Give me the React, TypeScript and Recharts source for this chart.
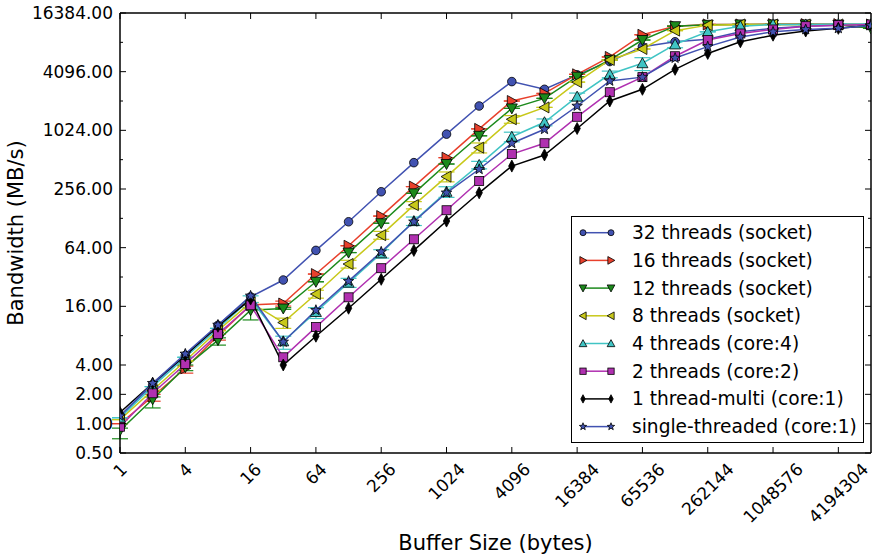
import React from "react";
import { LineChart, Line, XAxis, YAxis, Legend, ErrorBar } from "recharts";

const FONT = "DejaVu Sans, sans-serif";

// buffer sizes (bytes), one point per power of two
const sizes = [
  1, 2, 4, 8, 16, 32, 64, 128, 256, 512, 1024, 2048, 4096, 8192, 16384, 32768,
  65536, 131072, 262144, 524288, 1048576, 2097152, 4194304, 8388608,
];

// bandwidth in MB/s
const threads32 = [1.2, 2.5, 5.0, 10.2, 20, 29.8, 60, 118, 240, 477, 936, 1820, 3240, 2700, 3800, 5200, 7400, 8300, 8800, 10500, 11400, 12000, 12300, 12400];
const threads16 = [1.0, 1.9, 3.7, 8.0, 16.5, 17.1, 34.3, 67, 135, 271, 537, 1060, 2048, 2450, 3850, 5800, 9800, 12000, 12500, 12500, 12600, 12600, 12600, 12500];
const threads12 = [0.85, 1.78, 3.8, 7.2, 14.6, 15.2, 28.6, 57, 114, 231, 462, 900, 1720, 2180, 3640, 5400, 8650, 12000, 12400, 12500, 12500, 12500, 12400, 11400];
const threads8 = [1.1, 2.2, 4.4, 9.0, 17.5, 10.9, 21.4, 43.5, 86, 175, 343, 680, 1330, 1760, 3200, 5400, 7000, 10800, 12300, 12500, 12500, 12500, 12500, 12500];
const threads4 = [1.15, 2.4, 4.8, 9.5, 19, 7.0, 14, 28, 56, 120, 240, 452, 880, 1240, 2270, 3850, 5000, 7800, 10500, 12000, 12500, 12500, 12600, 12600];
const threads2 = [0.93, 2.05, 4.1, 8.3, 16.4, 4.8, 9.8, 19.8, 39.4, 78, 155, 309, 584, 755, 1410, 2520, 3600, 5900, 8650, 10100, 11100, 12000, 12300, 12500];
const thread1multi = [1.3, 2.6, 5.0, 10.0, 19, 4.0, 7.9, 15.3, 30.3, 60, 120, 234, 440, 572, 1070, 2048, 2700, 4330, 6300, 8300, 9700, 10700, 11400, 12200];
const singleThreaded = [1.2, 2.6, 5.2, 10.3, 20.5, 6.9, 14.6, 29, 58, 118, 234, 408, 755, 1050, 1820, 3290, 3600, 5650, 7400, 9300, 10500, 11100, 11400, 12200];

// error bars [below, above] in MB/s
const err16 = [[0, 0], [0.2, 0.1], [0.4, 0.2], [0.8, 0.3], [0, 0], [1, 1], [0, 0], [0, 0], [0, 0], [0, 0], [0, 0], [0, 0], [0, 0], [0, 0], [0, 0], [0, 0], [0, 0], [0, 0], [0, 0], [0, 0], [0, 0], [0, 0], [0, 0], [0, 0]];
const err12 = [[0.15, 0.05], [0.33, 0.1], [0.3, 0.2], [0.8, 0.4], [3.0, 0.8], [0.3, 0.3], [0, 0], [0, 0], [0, 0], [0, 0], [0, 0], [0, 0], [0, 0], [0, 0], [0, 0], [0, 0], [0, 0], [0, 0], [0, 0], [0, 0], [0, 0], [0, 0], [0, 0], [0, 0]];
const err8 = [[0, 0], [0, 0], [0, 0], [0, 0], [0, 0], [1.4, 1.2], [2, 2], [4, 4], [8, 8], [15, 15], [40, 40], [80, 80], [120, 120], [0, 0], [0, 0], [0, 0], [0, 0], [0, 0], [0, 0], [0, 0], [0, 0], [0, 0], [0, 0], [0, 0]];
const err4 = [[0, 0], [0, 0], [0, 0], [0, 0], [1.5, 1.5], [1.2, 0.9], [2, 1.5], [3, 3], [6, 5], [12, 12], [30, 30], [40, 40], [100, 100], [100, 100], [200, 200], [300, 300], [800, 700], [600, 600], [0, 0], [0, 0], [0, 0], [0, 0], [0, 0], [0, 0]];

const xTicks = [1, 4, 16, 64, 256, 1024, 4096, 16384, 65536, 262144, 1048576, 4194304];
const yTicks = [0.5, 1, 2, 4, 8, 16, 32, 64, 128, 256, 512, 1024, 2048, 4096, 8192, 16384];
const yLabeled = [0.5, 1, 2, 4, 16, 64, 256, 1024, 4096, 16384];

const series = [
  { key: "t32", name: "32 threads (socket)", color: "#4152b1", shape: "circle", values: threads32 },
  { key: "t16", name: "16 threads (socket)", color: "#e8402c", shape: "right", values: threads16, err: err16 },
  { key: "t12", name: "12 threads (socket)", color: "#1c8a1c", shape: "down", values: threads12, err: err12 },
  { key: "t8", name: "8 threads (socket)", color: "#c8c81a", shape: "left", values: threads8, err: err8 },
  { key: "t4", name: "4 threads (core:4)", color: "#40c4c4", shape: "up", values: threads4, err: err4 },
  { key: "t2", name: "2 threads (core:2)", color: "#b030b0", shape: "square", values: threads2 },
  { key: "t1", name: "1 thread-multi (core:1)", color: "#000000", shape: "thin", values: thread1multi },
  { key: "st", name: "single-threaded (core:1)", color: "#4152b1", shape: "star", values: singleThreaded },
];

const data = sizes.map((size, i) => {
  const row: Record<string, any> = { size };
  series.forEach((s) => {
    row[s.key] = s.values[i];
    if (s.err) row[s.key + "_err"] = s.err[i];
  });
  return row;
});

function Marker({ shape, x, y, color, k = 1 }: { shape: string; x: number; y: number; color: string; k?: number }) {
  const p = { fill: color, stroke: "#000", strokeWidth: 0.8 };
  const a = 5.5 * k;
  const b = 4.5 * k;
  switch (shape) {
    case "circle":
      return <circle cx={x} cy={y} r={4.3 * k} {...p} />;
    case "right":
      return <polygon points={`${x + a},${y} ${x - b},${y - a} ${x - b},${y + a}`} {...p} />;
    case "down":
      return <polygon points={`${x},${y + a} ${x - a},${y - b} ${x + a},${y - b}`} {...p} />;
    case "left":
      return <polygon points={`${x - a},${y} ${x + b},${y - a} ${x + b},${y + a}`} {...p} />;
    case "up":
      return <polygon points={`${x},${y - a} ${x - a},${y + b} ${x + a},${y + b}`} {...p} />;
    case "square":
      return <rect x={x - b} y={y - b} width={2 * b} height={2 * b} {...p} />;
    case "thin":
      return <polygon points={`${x},${y - 6 * k} ${x + 3.2 * k},${y} ${x},${y + 6 * k} ${x - 3.2 * k},${y}`} {...p} />;
    case "star": {
      const pts: string[] = [];
      for (let i = 0; i < 10; i++) {
        const r = (i % 2 === 0 ? 5.5 : 2.3) * k;
        const ang = -Math.PI / 2 + (i * Math.PI) / 5;
        pts.push(`${x + r * Math.cos(ang)},${y + r * Math.sin(ang)}`);
      }
      return <polygon points={pts.join(" ")} {...p} />;
    }
    default:
      return null;
  }
}

const dotRenderer = (shape: string, color: string) => (props: any) => {
  const { cx, cy, index } = props;
  if (cx == null || cy == null) return <g key={`${shape}-${index}`} />;
  return (
    <g key={`${shape}-${index}`}>
      <Marker shape={shape} x={cx} y={cy} color={color} />
    </g>
  );
};

const BottomTick = (props: any) => {
  const { x, y, payload } = props;
  const label = String(payload.value);
  const w = label.length * 0.636 * 17;
  const cy = y + 9 + ((w + 12) * 0.707) / 2;
  return (
    <g>
      <line x1={x} x2={x} y1={y} y2={y - 6} stroke="#000" strokeWidth={1} />
      <text
        x={0}
        y={0}
        transform={`translate(${x},${cy}) rotate(-45)`}
        textAnchor="middle"
        dominantBaseline="central"
        fontSize={17}
        fontFamily={FONT}
        fill="#000"
      >
        {label}
      </text>
    </g>
  );
};

const TopTick = (props: any) => {
  const { x, y } = props;
  return <line x1={x} x2={x} y1={y} y2={y + 6} stroke="#000" strokeWidth={1} />;
};

const LeftTick = (props: any) => {
  const { x, y, payload } = props;
  const major = yLabeled.includes(payload.value);
  return (
    <g>
      <line x1={x} x2={x + (major ? 6 : 3)} y1={y} y2={y} stroke="#000" strokeWidth={1} />
      {major && (
        <text x={x - 7} y={y} textAnchor="end" dominantBaseline="central" fontSize={17} fontFamily={FONT} fill="#000">
          {payload.value.toFixed(2)}
        </text>
      )}
    </g>
  );
};

const RightTick = (props: any) => {
  const { x, y, payload } = props;
  const major = yLabeled.includes(payload.value);
  return <line x1={x} x2={x - (major ? 6 : 3)} y1={y} y2={y} stroke="#000" strokeWidth={1} />;
};

const LegendBox = () => (
  <svg width={294} height={228} style={{ display: "block" }}>
    <rect x={0.5} y={0.5} width={292} height={226} fill="#fff" stroke="#000" strokeWidth={1} />
    {series.map((s, i) => {
      const y = 16.7 + i * 27.7;
      return (
        <g key={s.key}>
          <line x1={12} x2={40} y1={y} y2={y} stroke={s.color} strokeWidth={1.5} />
          <Marker shape={s.shape} x={12} y={y} color={s.color} k={0.7} />
          <Marker shape={s.shape} x={40} y={y} color={s.color} k={0.7} />
          <text x={61} y={y} dominantBaseline="central" fontSize={18.6} fontFamily={FONT} fill="#000">
            {s.name}
          </text>
        </g>
      );
    })}
  </svg>
);

export default function App() {
  return (
    <div style={{ position: "absolute", left: 0, top: 0 }}>
      <LineChart width={872} height={557} data={data} margin={{ top: 0, right: 0, bottom: 0, left: 0 }}>
        <XAxis
          xAxisId="bottom"
          dataKey="size"
          type="number"
          scale="log"
          domain={[1, 8388608]}
          allowDataOverflow
          ticks={xTicks}
          interval={0}
          height={104}
          tickSize={0}
          tickMargin={0}
          tick={BottomTick}
          axisLine={{ stroke: "#000", strokeWidth: 1.5 }}
          label={{
            content: (p: any) => {
              const vb = p.viewBox;
              return (
                <text x={vb.x + vb.width / 2} y={vb.y + 90} textAnchor="middle" dominantBaseline="central" fontSize={21} fontFamily={FONT} fill="#000">
                  Buffer Size (bytes)
                </text>
              );
            },
          }}
        />
        <XAxis
          xAxisId="top"
          orientation="top"
          dataKey="size"
          type="number"
          scale="log"
          domain={[1, 8388608]}
          allowDataOverflow
          ticks={xTicks}
          interval={0}
          height={13}
          tickSize={0}
          tickMargin={0}
          tick={TopTick}
          axisLine={{ stroke: "#000", strokeWidth: 1.5 }}
        />
        <YAxis
          yAxisId="left"
          type="number"
          scale="log"
          domain={[0.5, 16384]}
          allowDataOverflow
          ticks={yTicks}
          interval={0}
          width={120}
          tickSize={0}
          tickMargin={0}
          tick={LeftTick}
          axisLine={{ stroke: "#000", strokeWidth: 1.5 }}
          label={{
            content: (p: any) => {
              const vb = p.viewBox;
              const cx = vb.x + 16;
              const cy = vb.y + vb.height / 2;
              return (
                <text x={cx} y={cy} transform={`rotate(-90, ${cx}, ${cy})`} textAnchor="middle" dominantBaseline="central" fontSize={21} fontFamily={FONT} fill="#000">
                  Bandwidth (MB/s)
                </text>
              );
            },
          }}
        />
        <YAxis
          yAxisId="right"
          orientation="right"
          type="number"
          scale="log"
          domain={[0.5, 16384]}
          allowDataOverflow
          ticks={yTicks}
          interval={0}
          width={1}
          tickSize={0}
          tickMargin={0}
          tick={RightTick}
          axisLine={{ stroke: "#000", strokeWidth: 1.5 }}
        />
        {series.map((s) => (
          <Line
            key={s.key}
            xAxisId="bottom"
            yAxisId="left"
            dataKey={s.key}
            type="linear"
            stroke={s.color}
            strokeWidth={1.5}
            dot={dotRenderer(s.shape, s.color)}
            activeDot={false}
            isAnimationActive={false}
          >
            {s.err && <ErrorBar dataKey={s.key + "_err"} width={8} stroke={s.color} strokeWidth={1.2} direction="y" />}
          </Line>
        ))}
        <Legend
          layout="vertical"
          align="center"
          verticalAlign="middle"
          content={LegendBox}
          wrapperStyle={{ position: "absolute", left: 571, top: 216, width: 294, height: 228 }}
        />
      </LineChart>
    </div>
  );
}
